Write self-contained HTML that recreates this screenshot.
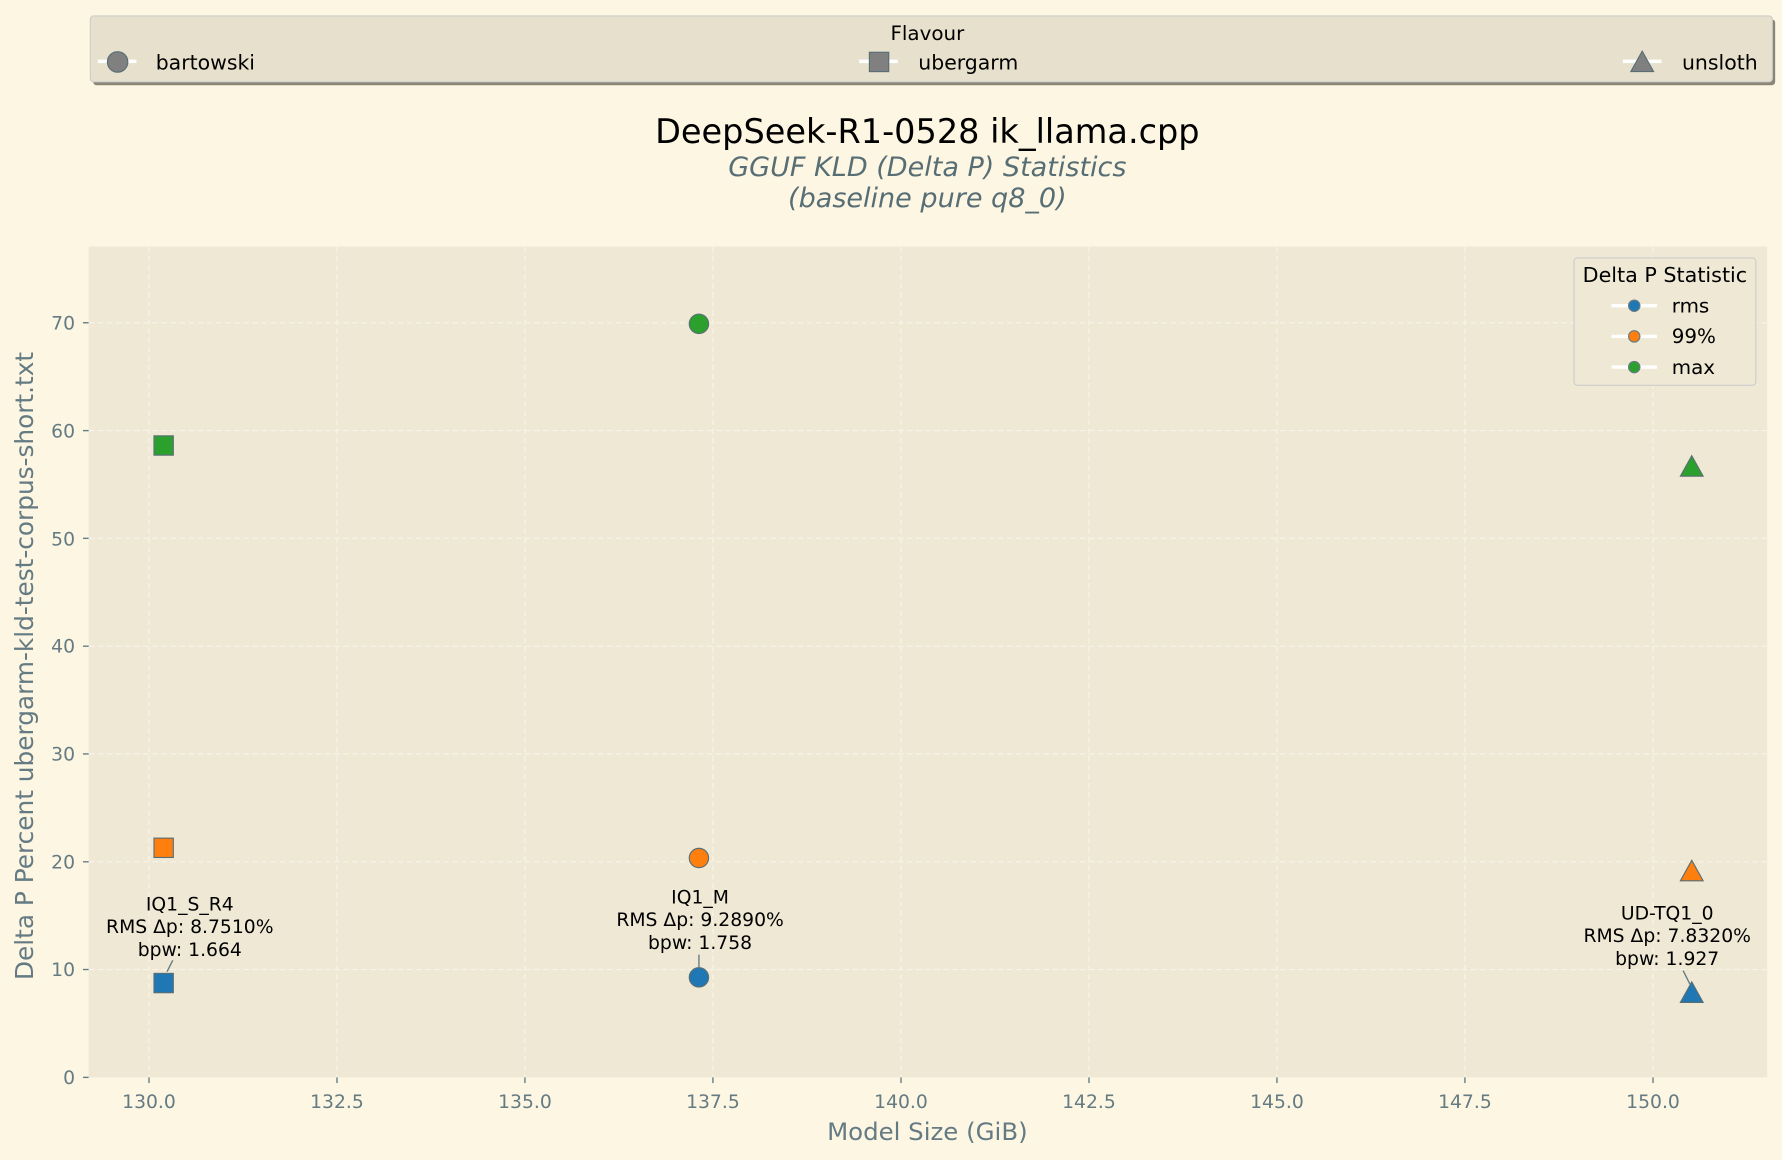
<!DOCTYPE html>
<html><head><meta charset="utf-8"><style>html,body{margin:0;padding:0;background:#fdf6e3}svg{display:block}</style></head><body>
<svg width="1782" height="1160" viewBox="0 0 1568 1020.7" xmlns="http://www.w3.org/2000/svg" font-family="'DejaVu Sans','Liberation Sans',sans-serif">
<rect width="1568" height="1020.7" fill="#fdf6e3"/>
<rect x="78" y="217" width="1477" height="731" fill="#eee8d5"/>
<g stroke="#f8f4ea" stroke-width="1" stroke-dasharray="5,3">
<line x1="131.1" y1="217" x2="131.1" y2="948"/><line x1="296.5" y1="217" x2="296.5" y2="948"/><line x1="461.9" y1="217" x2="461.9" y2="948"/><line x1="627.3" y1="217" x2="627.3" y2="948"/><line x1="792.8" y1="217" x2="792.8" y2="948"/><line x1="958.2" y1="217" x2="958.2" y2="948"/><line x1="1123.6" y1="217" x2="1123.6" y2="948"/><line x1="1289" y1="217" x2="1289" y2="948"/><line x1="1454.5" y1="217" x2="1454.5" y2="948"/>
<line x1="78" y1="853.1" x2="1555" y2="853.1"/><line x1="78" y1="758.3" x2="1555" y2="758.3"/><line x1="78" y1="663.4" x2="1555" y2="663.4"/><line x1="78" y1="568.6" x2="1555" y2="568.6"/><line x1="78" y1="473.7" x2="1555" y2="473.7"/><line x1="78" y1="378.9" x2="1555" y2="378.9"/><line x1="78" y1="284" x2="1555" y2="284"/>
</g>
<g stroke="#657b83" stroke-width="1.2">
<line x1="131.1" y1="948" x2="131.1" y2="953"/><line x1="296.5" y1="948" x2="296.5" y2="953"/><line x1="461.9" y1="948" x2="461.9" y2="953"/><line x1="627.3" y1="948" x2="627.3" y2="953"/><line x1="792.8" y1="948" x2="792.8" y2="953"/><line x1="958.2" y1="948" x2="958.2" y2="953"/><line x1="1123.6" y1="948" x2="1123.6" y2="953"/><line x1="1289" y1="948" x2="1289" y2="953"/><line x1="1454.5" y1="948" x2="1454.5" y2="953"/>
<line x1="73" y1="948" x2="78" y2="948"/><line x1="73" y1="853.1" x2="78" y2="853.1"/><line x1="73" y1="758.3" x2="78" y2="758.3"/><line x1="73" y1="663.4" x2="78" y2="663.4"/><line x1="73" y1="568.6" x2="78" y2="568.6"/><line x1="73" y1="473.7" x2="78" y2="473.7"/><line x1="73" y1="378.9" x2="78" y2="378.9"/><line x1="73" y1="284" x2="78" y2="284"/>
</g>
<g fill="#657b83" font-size="16.5" text-anchor="middle">
<text x="131.1" y="975">130.0</text><text x="296.5" y="975">132.5</text><text x="461.9" y="975">135.0</text><text x="627.3" y="975">137.5</text><text x="792.8" y="975">140.0</text><text x="958.2" y="975">142.5</text><text x="1123.6" y="975">145.0</text><text x="1289" y="975">147.5</text><text x="1454.5" y="975">150.0</text>
</g>
<g fill="#657b83" font-size="16.5" text-anchor="end">
<text x="66" y="954">0</text><text x="66" y="859">10</text><text x="66" y="764">20</text><text x="66" y="669">30</text><text x="66" y="574">40</text><text x="66" y="480">50</text><text x="66" y="385">60</text><text x="66" y="290">70</text>
</g>
<text x="816" y="1003" font-size="21.5" fill="#657b83" text-anchor="middle">Model Size (GiB)</text>
<text transform="translate(29,586) rotate(-90)" font-size="21.8" fill="#657b83" text-anchor="middle">Delta P Percent ubergarm-kld-test-corpus-short.txt</text>
<text x="816" y="126" font-size="29.5" fill="#000" text-anchor="middle">DeepSeek-R1-0528 ik_llama.cpp</text>
<text x="816" y="155" font-size="23.8" font-style="italic" fill="#586e75" text-anchor="middle">GGUF KLD (Delta P) Statistics</text>
<text x="816" y="182" font-size="23.8" font-style="italic" fill="#586e75" text-anchor="middle">(baseline pure q8_0)</text>
<g font-size="16.5" fill="#000" text-anchor="middle">
<text x="167" y="801">IQ1_S_R4</text><text x="167" y="821">RMS Δp: 8.7510%</text><text x="167" y="841">bpw: 1.664</text>
<text x="616" y="795">IQ1_M</text><text x="616" y="815">RMS Δp: 9.2890%</text><text x="616" y="835">bpw: 1.758</text>
<text x="1467" y="809">UD-TQ1_0</text><text x="1467" y="829">RMS Δp: 7.8320%</text><text x="1467" y="849">bpw: 1.927</text>
</g>
<g stroke="#657b83" stroke-width="1.2">
<line x1="152" y1="845" x2="147" y2="855"/><line x1="615" y1="840" x2="615" y2="851"/><line x1="1481" y1="854" x2="1487" y2="866"/>
</g>
<g stroke="#586e75" stroke-width="1">
<circle cx="615" cy="860" r="8.5" fill="#1f77b4"/><circle cx="615" cy="755" r="8.5" fill="#ff7f0e"/><circle cx="615" cy="285" r="8.5" fill="#2ca02c"/>
<rect x="135.5" y="856.5" width="17" height="17" fill="#1f77b4"/><rect x="135.5" y="737.5" width="17" height="17" fill="#ff7f0e"/><rect x="135.5" y="383.5" width="17" height="17" fill="#2ca02c"/>
<polygon points="1488.6,864 1498.6,882 1478.6,882" fill="#1f77b4"/><polygon points="1488.6,757 1498.6,775 1478.6,775" fill="#ff7f0e"/><polygon points="1488.6,401 1498.6,419 1478.6,419" fill="#2ca02c"/>
</g>
<rect x="82" y="17" width="1480" height="58" rx="3" fill="#8a8575"/>
<rect x="79.5" y="14" width="1480" height="58" rx="3" fill="#e6e0cc" stroke="#cccccc" stroke-width="1"/>
<text x="816" y="35" font-size="17.5" fill="#000" text-anchor="middle">Flavour</text>
<g stroke="#fff" stroke-width="3"><line x1="86" y1="54" x2="120" y2="54"/><line x1="756" y1="54" x2="790" y2="54"/><line x1="1428" y1="54" x2="1462" y2="54"/></g>
<circle cx="103.5" cy="54.5" r="9" fill="#808080" stroke="#586e75" stroke-width="1"/>
<rect x="765" y="46" width="17" height="17" fill="#808080" stroke="#586e75" stroke-width="1"/>
<polygon points="1445,45 1455,63 1435,63" fill="#808080" stroke="#586e75" stroke-width="1"/>
<g font-size="18" fill="#000"><text x="137" y="61">bartowski</text><text x="808" y="61">ubergarm</text><text x="1480" y="61">unsloth</text></g>
<rect x="1385" y="227" width="160" height="112" rx="3" fill="#eee8d5" stroke="#cccccc" stroke-width="1"/>
<text x="1465" y="248" font-size="18.2" fill="#000" text-anchor="middle">Delta P Statistic</text>
<g stroke="#fff" stroke-width="3"><line x1="1418" y1="269" x2="1458" y2="269"/><line x1="1418" y1="296" x2="1458" y2="296"/><line x1="1418" y1="323" x2="1458" y2="323"/></g>
<g stroke="#657b83" stroke-width="1"><circle cx="1438" cy="269" r="5" fill="#1f77b4"/><circle cx="1438" cy="296" r="5" fill="#ff7f0e"/><circle cx="1438" cy="323" r="5" fill="#2ca02c"/></g>
<g font-size="17.5" fill="#000"><text x="1471" y="275">rms</text><text x="1471" y="302">99%</text><text x="1471" y="329">max</text></g>
</svg>
</body></html>
